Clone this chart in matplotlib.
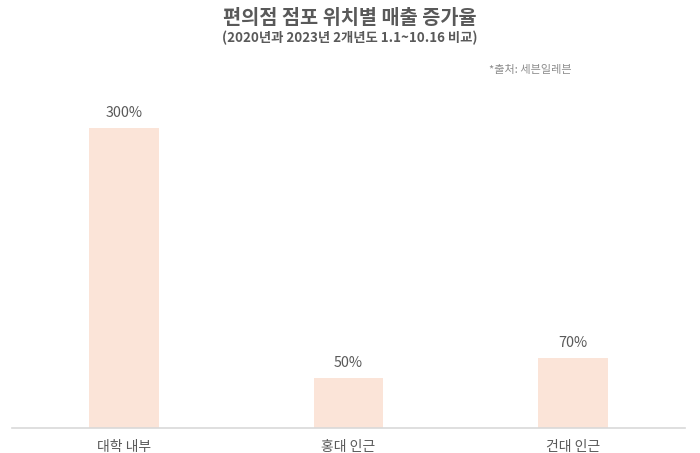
import matplotlib
matplotlib.use('Agg')
from matplotlib import pyplot as plt

plt.rcParams['font.family'] = ['Noto Sans CJK KR', 'DejaVu Sans']

categories = ['대학 내부', '홍대 인근', '건대 인근']
growth = [300, 50, 70]
value_labels = ['300%', '50%', '70%']

bar_color = '#FBE4D8'
text_color = '#595959'


def main():
    fig = plt.figure(figsize=(7, 4.53), dpi=100)
    ax = fig.add_axes([12 / 700, 25 / 453, 673 / 700, 348 / 453])

    x = list(range(len(categories)))
    bars = ax.bar(x, growth, width=0.31, color=bar_color)
    for rect, lab in zip(bars, value_labels):
        ax.text(rect.get_x() + rect.get_width() / 2, rect.get_height() + 8, lab,
                ha='center', va='bottom', fontsize=10.3, color=text_color)

    ax.set_xlim(-0.5, 2.5)
    ax.set_ylim(0, 348)
    ax.set_xticks(x)
    ax.set_xticklabels(categories, fontsize=10, color=text_color)
    ax.tick_params(axis='x', length=0, pad=9)
    ax.set_yticks([])
    for side in ['top', 'left', 'right']:
        ax.spines[side].set_visible(False)
    ax.spines['bottom'].set_color('#D9D9D9')
    ax.spines['bottom'].set_linewidth(1.2)

    fig.text(0.5, 1 - 19 / 453, '편의점 점포 위치별 매출 증가율', ha='center', va='center',
             fontsize=14.2, fontweight='bold', color=text_color)
    fig.text(0.5, 1 - 38 / 453, '(2020년과 2023년 2개년도 1.1~10.16 비교)', ha='center',
             va='center', fontsize=9.6, fontweight='bold', color=text_color)
    fig.text(572 / 700, 1 - 70 / 453, '*출처: 세븐일레븐', ha='right', va='center',
             fontsize=8, color='#8C8C8C')

    fig.savefig('out.png', dpi=100)


if __name__ == "__main__":
    main()
